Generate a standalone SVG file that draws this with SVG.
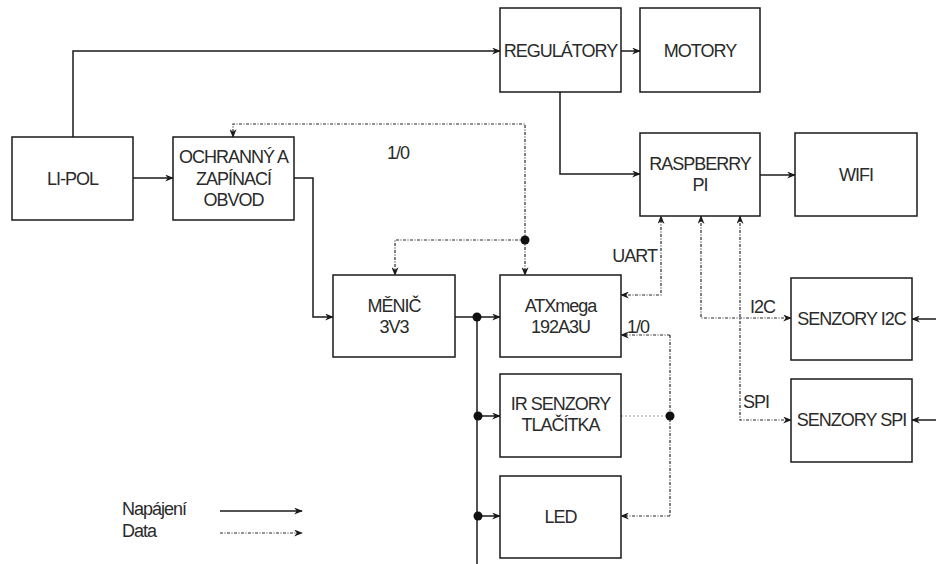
<svg xmlns="http://www.w3.org/2000/svg" width="936" height="564" viewBox="0 0 936 564">
<defs>
<style>
.box{fill:#fff;stroke:#1a1a1a;stroke-width:1.5}
.t{font-family:"Liberation Sans",Arial,sans-serif;font-size:18px;letter-spacing:-1px;fill:#2a2a2a;text-anchor:middle}
.l{font-family:"Liberation Sans",Arial,sans-serif;font-size:18px;letter-spacing:-1px;fill:#2a2a2a}
.p{fill:none;stroke:#1a1a1a;stroke-width:1.5}
.d{fill:none;stroke:#2a2a2a;stroke-width:1.2;stroke-dasharray:3 1.5 1 1.5}
.g{fill:none;stroke:#999;stroke-width:1.2;stroke-dasharray:2 2}
.dot{fill:#111}
</style>
<marker id="a" viewBox="0 0 10 8" refX="9" refY="4" markerWidth="9" markerHeight="7" markerUnits="userSpaceOnUse" orient="auto-start-reverse">
<path d="M0,0 L10,4 L0,8 L3,4 z" fill="#1a1a1a"/>
</marker>
</defs>
<rect width="936" height="564" fill="#fff"/>
<g id="connectors">
<path class="p" d="M73,137 V51 H500" marker-end="url(#a)"/>
<path class="p" d="M133,178 H173" marker-end="url(#a)"/>
<path class="p" d="M621,51 H640" marker-end="url(#a)"/>
<path class="p" d="M560,92 V174 H640" marker-end="url(#a)"/>
<path class="p" d="M760,175 H795" marker-end="url(#a)"/>
<path class="p" d="M294,178 H313 V317 H333" marker-end="url(#a)"/>
<path class="p" d="M455,317 H500" marker-end="url(#a)"/>
<path class="p" d="M477,317 V564"/>
<path class="p" d="M477,416 H500" marker-end="url(#a)"/>
<path class="p" d="M477,516 H500" marker-end="url(#a)"/>
<path class="p" d="M936,319 H912" marker-end="url(#a)"/>
<path class="p" d="M936,420 H912" marker-end="url(#a)"/>
<circle class="dot" cx="477" cy="317" r="4.5"/>
<circle class="dot" cx="478" cy="416" r="4.5"/>
<circle class="dot" cx="478" cy="516" r="4.5"/>
<path class="d" d="M525,240 V275" marker-end="url(#a)"/>
<path class="d" d="M525,240 V124 H233 V137" marker-end="url(#a)"/>
<path class="d" d="M525,240 H395 V275" marker-end="url(#a)"/>
<circle class="dot" cx="525" cy="240" r="4.5"/>
<path class="d" d="M621,295 H661 V216" marker-start="url(#a)" marker-end="url(#a)"/>
<path class="d" d="M701,216 V318 H791" marker-start="url(#a)" marker-end="url(#a)"/>
<path class="d" d="M740,216 V420 H791" marker-start="url(#a)" marker-end="url(#a)"/>
<path class="g" d="M621,416 H670"/>
<path class="d" d="M670,335 V516"/>
<path class="d" d="M670,335 H621" marker-end="url(#a)"/>
<path class="d" d="M670,516 H621" marker-end="url(#a)"/>
<circle class="dot" cx="670" cy="416" r="4.5"/>
<text class="l" x="387" y="159">1/0</text>
<text class="l" x="657" y="262" style="text-anchor:end">UART</text>
<text class="l" x="627" y="333">1/0</text>
<text class="l" x="750" y="313">I2C</text>
<text class="l" x="743" y="408">SPI</text>
</g>
<g id="lipol"><rect class="box" x="12" y="137" width="121" height="83"/><text class="t" x="72.5" y="185">LI-POL</text></g>
<g id="ochranny"><rect class="box" x="173" y="137" width="121" height="83"/><text class="t" x="233.5" y="163">OCHRANNÝ A</text><text class="t" x="233.5" y="185">ZAPÍNACÍ</text><text class="t" x="233.5" y="206">OBVOD</text></g>
<g id="regulatory"><rect class="box" x="500" y="8" width="121" height="84"/><text class="t" x="560.5" y="57">REGULÁTORY</text></g>
<g id="motory"><rect class="box" x="640" y="8" width="120" height="84"/><text class="t" x="700" y="57">MOTORY</text></g>
<g id="raspberry"><rect class="box" x="640" y="133" width="120" height="83"/><text class="t" x="700" y="170">RASPBERRY</text><text class="t" x="700" y="191">PI</text></g>
<g id="wifi"><rect class="box" x="795" y="133" width="122" height="83"/><text class="t" x="856" y="181">WIFI</text></g>
<g id="menic"><rect class="box" x="333" y="275" width="122" height="82"/><text class="t" x="394" y="312">MĚNIČ</text><text class="t" x="394" y="333">3V3</text></g>
<g id="atxmega"><rect class="box" x="500" y="275" width="121" height="82"/><text class="t" x="560.5" y="312">ATXmega</text><text class="t" x="560.5" y="333">192A3U</text></g>
<g id="ir"><rect class="box" x="500" y="374" width="121" height="83"/><text class="t" x="560.5" y="410">IR SENZORY</text><text class="t" x="560.5" y="431">TLAČÍTKA</text></g>
<g id="led"><rect class="box" x="500" y="476" width="121" height="82"/><text class="t" x="560.5" y="523">LED</text></g>
<g id="senzory_i2c"><rect class="box" x="791" y="278" width="121" height="82"/><text class="t" x="851.5" y="325">SENZORY I2C</text></g>
<g id="senzory_spi"><rect class="box" x="791" y="379" width="121" height="83"/><text class="t" x="851.5" y="426">SENZORY SPI</text></g>
<g id="legend">
<text class="l" x="122" y="515">Napájení</text>
<text class="l" x="122" y="537">Data</text>
<path class="p" d="M220,511 H302" marker-end="url(#a)"/>
<path class="d" d="M220,533 H302" marker-end="url(#a)"/>
</g>
</svg>
